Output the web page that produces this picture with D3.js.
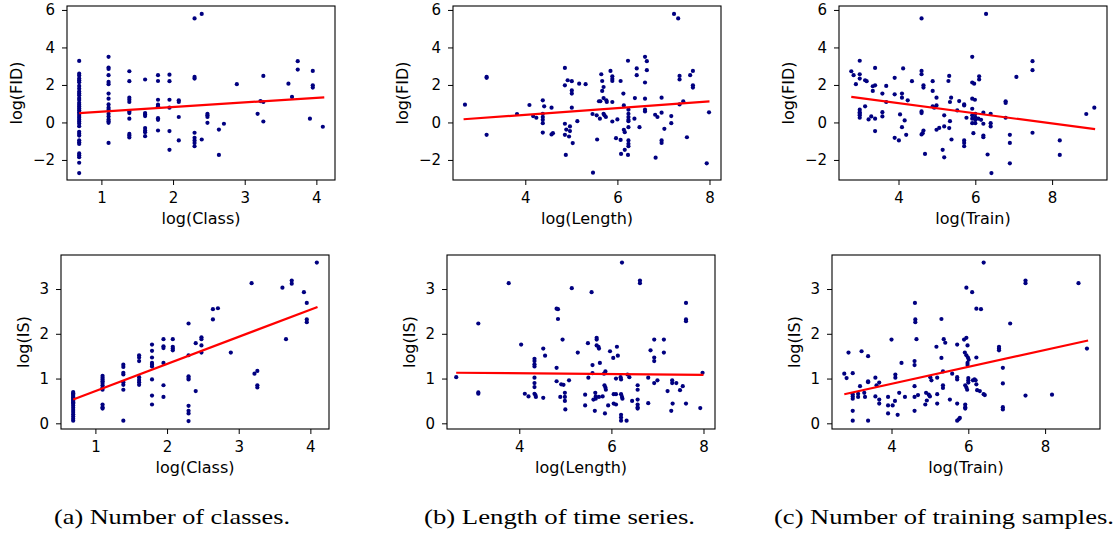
<!DOCTYPE html>
<html lang="en">
<head>
<meta charset="utf-8">
<script src="https://d3js.org/d3.v7.min.js"></script>
<style>
  body { margin: 0; background: #fff; }
  svg text { font-family: "DejaVu Sans", sans-serif; fill: #000; }
  .caption { font-family: "Liberation Serif", serif !important; }
</style>
</head>
<body>
<div id="chart"></div>
<script>

// x = log(number of classes), each with the log(FID) values of datasets having that many classes
const fidByClass = [
  [0.69, [3.28, 2.6, 2.5, 2.35, 2.25, 2.15, 1.95, 1.8, 1.65, 1.55, 1.45, 1.3, 1.2, 1.05, 0.95, 0.85, 0.75, 0.65, 0.55, 0.45, 0.35, 0.25, 0.15, 0.05, -0.05, -0.2, -0.5, -0.6, -0.7, -0.95, -1.05, -1.15, -1.65, -1.75, -1.85, -2.15, -2.7]],
  [1.10, [3.5, 2.93, 2.85, 2.52, 2.16, 2.04, 1.54, 1.27, 0.96, 0.79, 0.68, 0.46, 0.32, 0.16, 0.07, -0.02, -1.09]],
  [1.39, [2.73, 2.2, 1.32, 1.21, 1.09, 0.59, 0.5, 0.2, -0.61, -0.7, -0.8]],
  [1.61, [2.29, 0.5, 0.43, 0.34, -0.3, -0.43, -0.52, -0.73]],
  [1.79, [2.52, 2.21, 1.21, 0.95, 0.86, 0.23, 0.14, -0.43]],
  [1.95, [2.55, 2.2, 1.21, 0.79, -0.46, -1.46]],
  [2.08, [1.18, 1.09, 0.29, -0.96]],
  [2.30, [5.55, 2.43, 2.34, -0.55, -0.82, -0.96, -1.1, -1.27]],
  [2.40, [5.79, -0.91]],
  [2.48, [0.46, 0.38, 0.29, -0.02]],
  [2.64, [-0.38, -1.73]],
  [2.71, [-0.07]],
  [2.89, [2.04]],
  [3.18, [0.46]],
  [3.22, [1.14]],
  [3.26, [2.48, 1.09, 0.05]],
  [3.61, [2.07]],
  [3.66, [1.36]],
  [3.74, [3.27, 2.82]],
  [3.91, [0.2]],
  [3.95, [2.75, 1.98, 1.86]],
  [4.09, [-0.23]]
];

const isByClass = [
  [0.69, [0.7, 0.67, 0.64, 0.61, 0.58, 0.55, 0.52, 0.5, 0.47, 0.44, 0.4, 0.35, 0.3, 0.25, 0.2, 0.15, 0.1, 0.06]],
  [1.10, [1.06, 1.02, 0.98, 0.94, 0.9, 0.85, 0.8, 0.75, 0.42, 0.36, 0.33]],
  [1.39, [1.31, 1.26, 1.13, 1.09, 0.92, 0.86, 0.75, 0.06]],
  [1.61, [1.52, 1.47, 1.39, 1.03, 0.97, 0.92, 0.86]],
  [1.79, [1.76, 1.62, 1.47, 1.35, 1.31, 1.27, 0.98, 0.62, 0.42]],
  [1.95, [1.88, 1.72, 1.68, 1.35, 0.85, 0.59]],
  [2.08, [1.88, 1.71, 1.67, 1.63]],
  [2.30, [2.23, 1.52, 1.05, 1.01, 0.98, 0.39, 0.28, 0.22, 0.05]],
  [2.40, [1.79, 0.72]],
  [2.48, [1.92, 1.88, 1.74, 1.58]],
  [2.64, [2.55, 2.32]],
  [2.71, [2.57]],
  [2.89, [1.58]],
  [3.18, [3.13]],
  [3.22, [1.11]],
  [3.26, [1.17, 0.85, 0.8]],
  [3.61, [3.03]],
  [3.66, [1.88]],
  [3.74, [3.19, 3.12]],
  [3.91, [2.93]],
  [3.95, [2.69, 2.32, 2.26]],
  [4.09, [3.59]]
];

// [log(Length), log(FID)]
const fidByLength = [[2.69,0.95],[3.16,2.43],[3.16,2.38],[3.16,-0.66],[3.82,0.45],[4.09,0.93],[4.17,0.34],[4.24,0.25],[4.38,1.18],[4.38,0.46],[4.38,0.29],[4.38,0.14],[4.38,-0.04],[4.38,-0.54],[4.41,0.86],[4.57,0.79],[4.57,-0.64],[4.6,-0.57],[4.86,2.91],[4.86,1.98],[4.86,-0.07],[4.86,-0.66],[4.88,-1.73],[4.89,-0.38],[4.92,2.25],[4.97,-0.21],[4.97,-0.46],[4.95,-0.75],[5.01,2.2],[5.01,1.71],[5.01,1.54],[5.01,0.79],[5.03,-1.1],[5.13,0.07],[5.17,2.07],[5.31,2.04],[5.46,0.45],[5.55,0.38],[5.56,-0.91],[5.47,-2.68],[5.6,1.13],[5.63,1.13],[5.62,0.2],[5.65,2.57],[5.67,2.21],[5.67,1.68],[5.7,1.89],[5.7,1.3],[5.7,0.46],[5.72,0.38],[5.75,0.29],[5.76,1.18],[5.77,1.09],[5.85,2.75],[5.89,2.46],[5.89,2.32],[5.89,2.21],[5.89,1.09],[5.89,0.05],[5.97,-0.84],[6.0,0.16],[6.07,2.21],[6.07,-0.93],[6.08,-1.68],[6.13,1.54],[6.14,0.91],[6.14,-0.39],[6.16,-0.52],[6.16,-1.46],[6.23,3.29],[6.24,0.68],[6.24,0.46],[6.24,0.29],[6.24,0.14],[6.24,0.07],[6.24,-0.25],[6.24,-0.96],[6.24,-1.14],[6.24,-1.27],[6.23,-1.73],[6.37,0.2],[6.38,1.3],[6.42,2.88],[6.42,2.52],[6.48,-0.25],[6.6,3.5],[6.6,2.13],[6.6,1.27],[6.6,0.68],[6.6,0.59],[6.64,3.27],[6.64,2.79],[6.82,0.41],[6.83,-1.88],[6.87,0.29],[6.96,1.32],[6.96,0.52],[6.96,-0.96],[6.96,-1.09],[7.02,-0.34],[7.17,0.34],[7.17,-0.04],[7.23,5.79],[7.32,5.55],[7.35,2.48],[7.35,2.29],[7.35,0.96],[7.43,1.13],[7.51,-0.79],[7.58,2.52],[7.64,2.75],[7.64,1.98],[7.64,1.86],[7.99,0.54],[7.94,-2.18]];

// [log(Length), log(IS)]
const isByLength = [[2.63,1.03],[3.11,2.23],[3.11,0.69],[3.11,0.66],[3.77,3.13],[4.04,1.76],[4.12,0.66],[4.2,0.6],[4.33,1.44],[4.33,1.39],[4.33,1.32],[4.33,1.27],[4.33,1.02],[4.33,0.9],[4.33,0.81],[4.33,0.66],[4.35,0.63],[4.36,0.59],[4.52,1.67],[4.56,1.51],[4.52,0.57],[4.81,2.56],[4.84,2.55],[4.84,2.33],[4.81,1.24],[4.81,0.94],[4.89,0.59],[4.91,0.87],[4.96,0.86],[4.94,1.87],[4.99,0.68],[4.99,0.59],[4.99,0.5],[5.0,0.31],[5.08,0.96],[5.14,3.02],[5.27,1.58],[5.43,0.64],[5.43,0.4],[5.49,1.79],[5.5,1.02],[5.57,2.93],[5.59,1.3],[5.59,1.12],[5.61,0.53],[5.64,0.28],[5.65,0.68],[5.66,0.6],[5.66,0.55],[5.68,1.91],[5.68,1.87],[5.68,1.74],[5.72,1.71],[5.73,1.67],[5.75,1.35],[5.73,0.59],[5.81,0.6],[5.84,1.11],[5.87,1.16],[5.85,0.85],[5.87,0.8],[5.88,0.75],[5.86,0.22],[5.93,0.4],[5.97,1.61],[6.04,1.46],[6.05,0.65],[6.1,0.65],[6.05,0.44],[6.1,0.42],[6.1,1.0],[6.12,1.71],[6.14,1.51],[6.2,1.03],[6.21,0.98],[6.21,0.65],[6.23,0.59],[6.24,0.55],[6.21,0.19],[6.21,0.13],[6.21,0.06],[6.23,3.59],[6.33,0.06],[6.35,1.09],[6.39,1.03],[6.45,0.5],[6.57,0.85],[6.57,0.75],[6.57,0.53],[6.57,0.42],[6.57,0.36],[6.57,0.33],[6.62,3.19],[6.62,3.13],[6.8,1.02],[6.8,0.45],[6.85,1.63],[6.93,1.87],[6.93,1.47],[6.93,1.39],[6.93,0.9],[7.0,0.96],[7.14,1.87],[7.14,1.58],[7.22,0.72],[7.3,0.28],[7.32,0.96],[7.32,0.9],[7.33,0.44],[7.41,0.9],[7.49,0.74],[7.55,0.83],[7.62,2.69],[7.62,2.32],[7.62,2.28],[7.62,0.44],[7.93,0.34],[7.98,1.13]];

// [log(Train), log(FID)]
const fidByTrain = [[2.77,2.73],[2.83,2.52],[2.89,2.04],[2.99,3.29],[2.99,2.57],[2.99,2.34],[2.99,0.68],[2.99,0.55],[2.99,0.46],[2.99,0.38],[2.99,0.25],[3.13,0.86],[3.13,2.25],[3.17,2.2],[3.22,0.16],[3.29,0.32],[3.33,1.93],[3.33,1.68],[3.39,2.91],[3.39,1.98],[3.39,0.2],[3.39,-0.46],[3.58,1.54],[3.58,0.55],[3.58,0.32],[3.68,1.95],[3.68,1.09],[3.9,2.38],[3.9,1.5],[3.9,-0.82],[4.01,-0.96],[4.04,0.43],[4.09,1.54],[4.09,1.32],[4.09,-0.25],[4.12,2.88],[4.16,0.11],[4.2,-0.66],[4.24,1.18],[4.35,2.2],[4.6,2.57],[4.6,2.75],[4.6,0.59],[4.6,0.5],[4.6,5.55],[4.6,-0.64],[4.63,-0.57],[4.65,1.98],[4.65,1.86],[4.65,-0.43],[4.69,-1.68],[4.89,2.2],[4.89,1.68],[4.89,0.86],[4.93,0.79],[4.99,1.32],[4.99,0.91],[4.99,-0.39],[5.06,-0.29],[5.15,-1.46],[5.19,0.38],[5.19,-0.21],[5.19,-1.86],[5.3,2.21],[5.32,2.48],[5.32,-0.3],[5.34,1.09],[5.34,0.07],[5.37,1.32],[5.38,-0.91],[5.53,0.64],[5.58,1.14],[5.71,0.96],[5.71,0.91],[5.71,-0.96],[5.71,-1.09],[5.71,-1.27],[5.77,0.25],[5.92,3.5],[5.92,2.13],[5.92,1.27],[5.92,0.73],[5.92,0.38],[5.92,0.2],[5.92,-0.04],[5.95,-0.57],[5.97,2.07],[5.99,1.21],[6.0,0.46],[6.0,0.29],[6.0,0.14],[6.0,-0.04],[6.08,0.2],[6.1,2.29],[6.1,2.46],[6.15,0.14],[6.21,-0.7],[6.21,-0.79],[6.21,0.52],[6.21,-0.07],[6.28,5.79],[6.32,-1.71],[6.4,0.46],[6.4,-0.04],[6.4,-0.21],[6.42,-2.7],[6.79,1.13],[6.79,1.04],[6.79,0.25],[6.9,-0.66],[6.9,-1.09],[6.9,-2.18],[7.07,2.43],[7.49,3.27],[7.49,2.79],[7.49,-0.55],[8.2,-0.96],[8.2,-1.73],[8.89,0.45],[9.1,0.79]];

// [log(Train), log(IS)]
const isByTrain = [[2.77,1.11],[2.83,1.01],[2.88,1.58],[2.99,1.12],[2.99,0.65],[2.99,0.6],[2.99,0.55],[2.99,0.28],[2.99,0.06],[3.13,0.66],[3.13,0.59],[3.18,0.83],[3.22,1.61],[3.29,0.68],[3.31,0.59],[3.39,1.5],[3.39,0.94],[3.39,0.92],[3.39,0.06],[3.58,1.02],[3.58,0.6],[3.61,0.85],[3.68,0.91],[3.68,0.53],[3.68,0.44],[3.91,0.59],[3.91,0.4],[3.91,0.22],[4.0,1.87],[4.03,0.4],[4.09,0.5],[4.1,1.09],[4.1,1.02],[4.16,0.19],[4.2,0.68],[4.26,1.35],[4.35,0.59],[4.61,2.69],[4.62,2.32],[4.62,2.26],[4.65,1.88],[4.6,1.39],[4.6,1.3],[4.6,0.83],[4.6,0.59],[4.6,0.28],[4.69,0.63],[4.88,0.42],[4.9,0.68],[4.92,0.51],[4.97,0.64],[5.0,0.6],[5.01,1.03],[5.04,0.96],[5.17,1.71],[5.19,1.02],[5.19,0.65],[5.19,0.44],[5.3,2.33],[5.3,1.46],[5.34,1.16],[5.34,0.85],[5.34,0.79],[5.36,1.88],[5.4,1.8],[5.52,0.53],[5.58,1.11],[5.71,1.76],[5.71,1.03],[5.71,0.98],[5.71,0.44],[5.71,0.06],[5.75,0.09],[5.78,0.12],[5.89,1.87],[5.95,1.91],[5.95,3.03],[5.98,1.74],[5.91,1.58],[5.95,1.52],[5.99,1.47],[6.01,1.42],[5.98,1.35],[5.98,1.3],[5.92,0.85],[5.95,0.8],[5.97,0.75],[5.92,0.42],[5.92,0.36],[5.92,0.33],[6.0,1.01],[6.0,0.96],[6.0,0.91],[6.1,2.93],[6.12,0.96],[6.16,0.98],[6.21,2.56],[6.21,1.47],[6.19,0.96],[6.21,0.87],[6.23,0.74],[6.3,0.72],[6.33,2.55],[6.4,3.59],[6.4,0.65],[6.43,0.63],[6.8,1.71],[6.8,1.67],[6.8,1.63],[6.9,1.24],[6.9,0.89],[6.9,0.36],[6.9,0.31],[7.09,2.23],[7.49,3.19],[7.49,3.13],[7.49,0.62],[8.18,0.64],[8.87,3.13],[9.09,1.67]];

// fitted regression lines, two end points each (x, y)
const fitFidClass  = [[0.69, 0.50], [4.11, 1.34]];
const fitFidLength = [[2.66, 0.17], [8.00, 1.12]];
const fitFidTrain  = [[2.77, 1.36], [9.12, -0.36]];
const fitIsClass   = [[0.69, 0.53], [4.10, 2.60]];
const fitIsLength  = [[2.63, 1.13], [8.00, 1.08]];
const fitIsTrain   = [[2.77, 0.65], [9.12, 1.85]];

// axis ranges and ticks
const classDomain = [0.52, 4.26], classTicks = [1, 2, 3, 4];
const lengthDomain = [2.43, 8.25], lengthTicks = [4, 6, 8];
const trainDomain = [2.45, 9.43], trainTicks = [4, 6, 8];
const fidDomain = [-3.07, 6.21], fidTicks = [-2, 0, 2, 4, 6];
const isDomain = [-0.127, 3.76], isTicks = [0, 1, 2, 3];

const captions = ["(a) Number of classes.", "(b) Length of time series.", "(c) Number of training samples."];

function flatten(groups) {
  const out = [];
  groups.forEach(g => g[1].forEach(v => out.push([g[0], v])));
  return out;
}

const W = 1120, H = 533;
const svg = d3.select("#chart").append("svg").attr("width", W).attr("height", H);

const panels = [
  {left: 67,  top: 6, w: 268, h: 174, pts: flatten(fidByClass), fit: fitFidClass, xd: classDomain, xt: classTicks, yd: fidDomain, yt: fidTicks, xl: "log(Class)", yl: "log(FID)", ylOff: 45},
  {left: 453, top: 6, w: 268, h: 174, pts: fidByLength, fit: fitFidLength, xd: lengthDomain, xt: lengthTicks, yd: fidDomain, yt: fidTicks, xl: "log(Length)", yl: "log(FID)", ylOff: 45},
  {left: 839, top: 6, w: 268, h: 174, pts: fidByTrain, fit: fitFidTrain, xd: trainDomain, xt: trainTicks, yd: fidDomain, yt: fidTicks, xl: "log(Train)", yl: "log(FID)", ylOff: 45},
  {left: 61,  top: 255, w: 268, h: 174, pts: flatten(isByClass), fit: fitIsClass, xd: classDomain, xt: classTicks, yd: isDomain, yt: isTicks, xl: "log(Class)", yl: "log(IS)", ylOff: 32},
  {left: 447, top: 255, w: 268, h: 174, pts: isByLength, fit: fitIsLength, xd: lengthDomain, xt: lengthTicks, yd: isDomain, yt: isTicks, xl: "log(Length)", yl: "log(IS)", ylOff: 32},
  {left: 832, top: 255, w: 268, h: 174, pts: isByTrain, fit: fitIsTrain, xd: trainDomain, xt: trainTicks, yd: isDomain, yt: isTicks, xl: "log(Train)", yl: "log(IS)", ylOff: 32}
];

panels.forEach(p => {
  const g = svg.append("g").attr("transform", "translate(" + p.left + "," + p.top + ")");
  const x = d3.scaleLinear().domain(p.xd).range([0, p.w]);
  const y = d3.scaleLinear().domain(p.yd).range([p.h, 0]);

  g.selectAll("circle").data(p.pts).enter().append("circle")
    .attr("cx", d => x(d[0])).attr("cy", d => y(d[1]))
    .attr("r", 2.1).attr("fill", "#000080");

  g.append("path").datum(p.fit)
    .attr("d", d3.line().x(d => x(d[0])).y(d => y(d[1])))
    .attr("stroke", "red").attr("stroke-width", 2.2).attr("fill", "none");

  const xa = g.append("g").attr("transform", "translate(0," + p.h + ")")
    .call(d3.axisBottom(x).tickValues(p.xt).tickFormat(d3.format("d")).tickSize(5).tickPadding(7));
  const ya = g.append("g")
    .call(d3.axisLeft(y).tickValues(p.yt).tickFormat(d3.format("d")).tickSize(5).tickPadding(7));
  [xa, ya].forEach(a => {
    a.select(".domain").remove();
    a.selectAll("text").attr("font-size", 15).attr("font-family", "DejaVu Sans");
    a.selectAll("line").attr("stroke", "#000").attr("stroke-width", 1);
  });

  g.append("rect").attr("width", p.w).attr("height", p.h)
    .attr("fill", "none").attr("stroke", "#000").attr("stroke-width", 1.1);

  g.append("text").attr("x", p.w / 2).attr("y", p.h + 44)
    .attr("text-anchor", "middle").attr("font-size", 16).text(p.xl);
  g.append("text").attr("transform", "translate(" + (-p.ylOff) + "," + (p.h / 2) + ") rotate(-90)")
    .attr("text-anchor", "middle").attr("font-size", 16).text(p.yl);
});

// sub-figure captions
const capX = [54, 424, 774], capW = [236, 271, 340];
captions.forEach((c, i) => {
  svg.append("text").attr("class", "caption")
    .attr("x", capX[i]).attr("y", 524)
    .attr("font-size", 21)
    .attr("textLength", capW[i]).attr("lengthAdjust", "spacingAndGlyphs")
    .text(c);
});
</script>
</body>
</html>
